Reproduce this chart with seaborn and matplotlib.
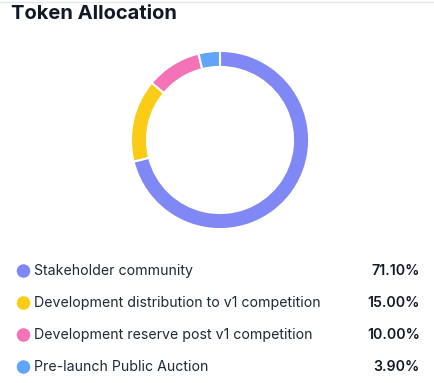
import matplotlib.pyplot as plt
import seaborn as sns
import pandas as pd

# Token allocation data
labels = ['Stakeholder community',
          'Development distribution to v1 competition',
          'Development reserve post v1 competition',
          'Pre-launch Public Auction']
shares = [71.10, 15.00, 10.00, 3.90]
colors = ['#8088f5', '#facc15', '#f472b6', '#60a5fa']

sns.set_style('white')
plt.rcParams['font.family'] = ['Inter', 'DejaVu Sans']

W, H = 434, 383
fig = plt.figure(figsize=(W / 100, H / 100), dpi=100)

# thin separator at the very top
fig.add_artist(plt.Line2D([0, 1], [1 - 1.5 / H, 1 - 1.5 / H], color='#e5e7eb', lw=1))

fig.text(11 / W, 1 - 14 / H, 'Token Allocation', fontsize=14.5, fontweight='bold',
         color='#111827', ha='left', va='center')

# Donut
ax = fig.add_axes([130 / W, (H - 230) / H, 180 / W, 180 / H])
ax.pie(shares, colors=colors, startangle=90, counterclock=False,
       wedgeprops=dict(width=0.18, edgecolor='white', linewidth=1.5))
ax.set_xlim(-1.01, 1.01)
ax.set_ylim(-1.01, 1.01)
ax.set_aspect('equal')
ax.axis('off')

# Legend rows
df = pd.DataFrame({'label': labels, 'share': shares, 'row': range(len(labels))})
df['x'] = 23.5
lax = fig.add_axes([0, 0, 1, 128 / H])
sns.scatterplot(data=df, x='x', y='row', hue='label', palette=colors, s=95,
                edgecolor='none', legend=False, ax=lax)
for _, r in df.iterrows():
    lax.text(34, r['row'], r['label'], fontsize=10.2, color='#1f2937', va='center', ha='left')
    lax.text(420, r['row'], f"{r['share']:.2f}%", fontsize=10.2, fontweight='semibold',
             color='#111827', va='center', ha='right')
lax.set_xlim(0, W)
lax.set_ylim(3.5, -0.5)
lax.axis('off')

fig.savefig('out.png', dpi=100)
